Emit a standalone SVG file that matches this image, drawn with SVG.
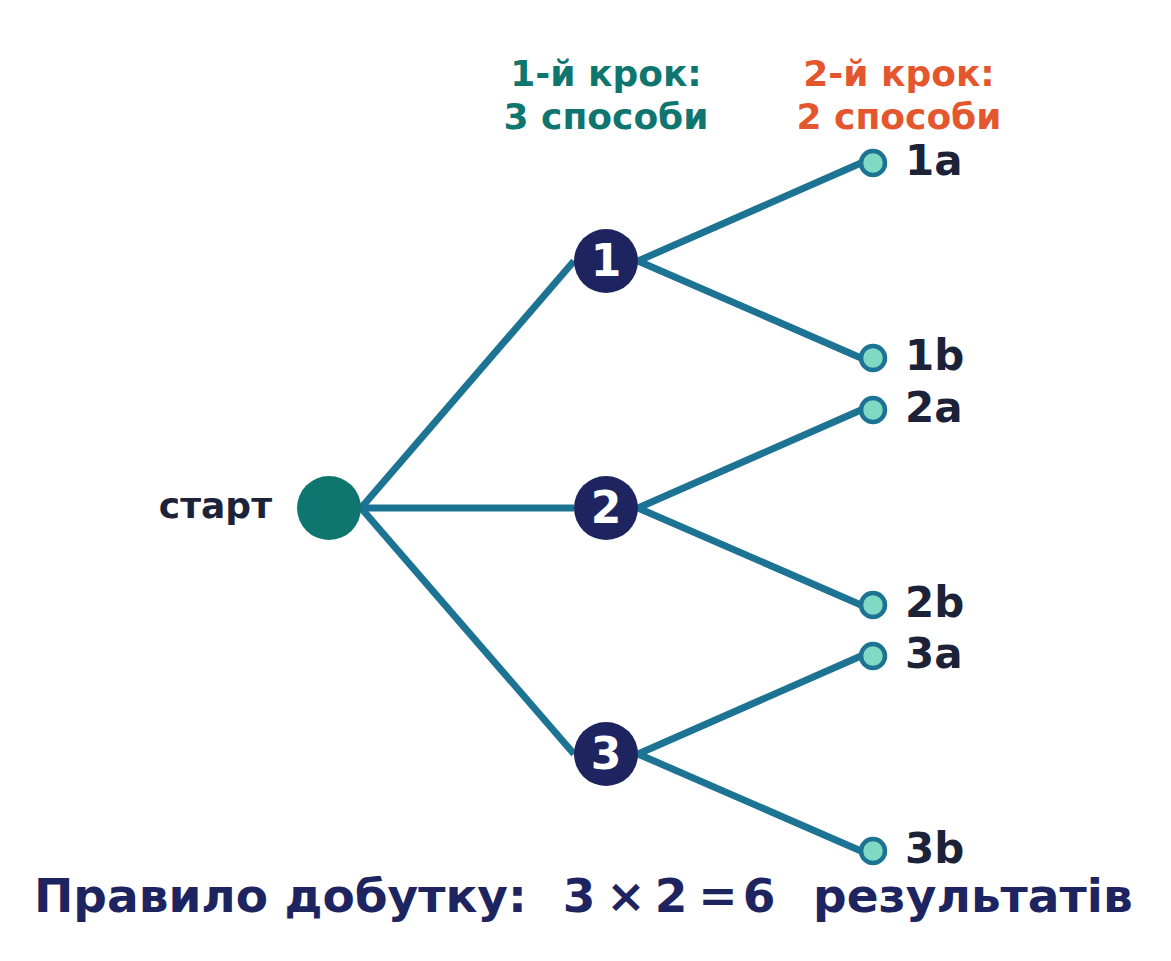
<svg xmlns="http://www.w3.org/2000/svg" width="1171" height="961" viewBox="0 0 1171 961">
<style>
text{font-family:"DejaVu Sans","Liberation Sans",sans-serif;font-weight:bold}
.e{stroke:#1d7393;stroke-width:7;fill:none}
.mid{fill:#1e2460}
.leaf{fill:#80d9c3;stroke:#1d7393;stroke-width:4.5}
.num{fill:#fff;font-size:44px;text-anchor:middle}
.lab{fill:#1c2238;font-size:42px}
.f{fill:#1e2460;font-size:47px}
.fm{fill:#1e2460;font-size:47px;text-anchor:middle}
</style>
<rect width="1171" height="961" fill="#fff"/>
<g id="connectors">
<line class="e" x1="361" y1="508" x2="574" y2="261"/>
<line class="e" x1="361" y1="508" x2="574" y2="508"/>
<line class="e" x1="361" y1="508" x2="574" y2="754"/>
<line class="e" x1="638" y1="261" x2="861" y2="163"/>
<line class="e" x1="638" y1="261" x2="861" y2="358"/>
<line class="e" x1="638" y1="508" x2="861" y2="410"/>
<line class="e" x1="638" y1="508" x2="861" y2="605"/>
<line class="e" x1="638" y1="754" x2="861" y2="656"/>
<line class="e" x1="638" y1="754" x2="861" y2="851"/>
</g>
<g id="headers">
<text x="606" y="86" font-size="36" fill="#0e766e" text-anchor="middle">1-й крок:</text>
<text x="606" y="129" font-size="36" fill="#0e766e" text-anchor="middle">3 способи</text>
<text x="899" y="86" font-size="36" fill="#e4572e" text-anchor="middle">2-й крок:</text>
<text x="899" y="129" font-size="36" fill="#e4572e" text-anchor="middle">2 способи</text>
</g>
<g id="start">
<circle cx="329" cy="508" r="32" fill="#0e766e"/>
<text x="272" y="518" font-size="36" fill="#1c2238" text-anchor="end">старт</text>
</g>
<g id="n1"><circle class="mid" cx="606" cy="261" r="32"/><text class="num" x="606" y="276">1</text></g>
<g id="n2"><circle class="mid" cx="606" cy="508" r="32"/><text class="num" x="606" y="523">2</text></g>
<g id="n3"><circle class="mid" cx="606" cy="754" r="32"/><text class="num" x="606" y="769">3</text></g>
<g id="l1a"><circle class="leaf" cx="873" cy="163" r="12"/><text class="lab" x="905" y="175">1a</text></g>
<g id="l1b"><circle class="leaf" cx="873" cy="358" r="12"/><text class="lab" x="905" y="370">1b</text></g>
<g id="l2a"><circle class="leaf" cx="873" cy="410" r="12"/><text class="lab" x="905" y="422">2a</text></g>
<g id="l2b"><circle class="leaf" cx="873" cy="605" r="12"/><text class="lab" x="905" y="617">2b</text></g>
<g id="l3a"><circle class="leaf" cx="873" cy="656" r="12"/><text class="lab" x="905" y="668">3a</text></g>
<g id="l3b"><circle class="leaf" cx="873" cy="851" r="12"/><text class="lab" x="905" y="863">3b</text></g>
<g id="formula">
<text class="f" x="34" y="912">Правило добутку:</text>
<text class="fm" x="579" y="912">3</text>
<text class="fm" x="626" y="912">×</text>
<text class="fm" x="671" y="912">2</text>
<text class="fm" x="718" y="912">=</text>
<text class="fm" x="759" y="912">6</text>
<text class="f" x="813" y="912">результатів</text>
</g>
</svg>
